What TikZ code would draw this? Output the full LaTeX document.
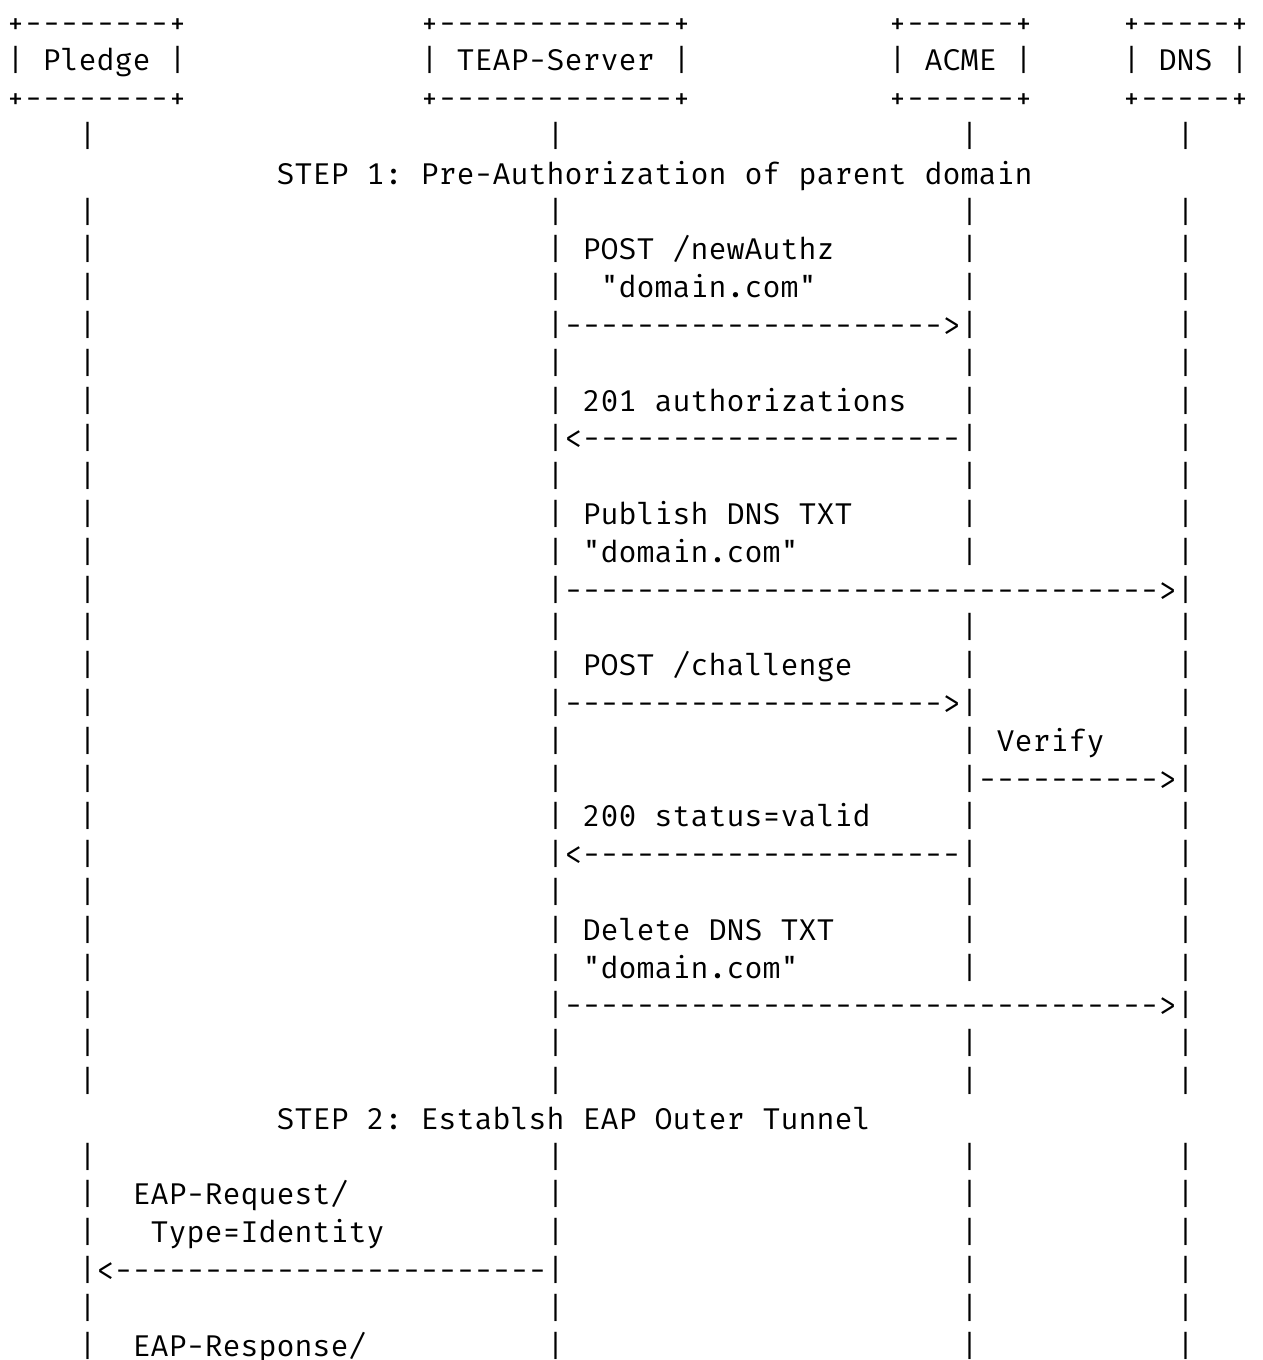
\documentclass[tikz,border=0pt]{standalone}
\usepackage{fontspec}
\setmonofont{Fira Mono}
\newcommand\cw{18.0}
\newcommand\xo{6.6}
\newcommand\lh{37.8}
\newcommand\bl{33}
\newcommand\dashes[1]{\foreach\k in {1,...,#1}{-}}
\tikzset{txt/.style={anchor=base west,inner sep=0pt,outer sep=0pt,text=black,
  font=\ttfamily\fontsize{30pt}{37.8pt}\selectfont}}
\newcommand\at[4]{\node[txt] (#1) at ({(\xo+#2*\cw)*1pt},{-(\bl+#3*\lh)*1pt}) {#4};}
\begin{document}
\begin{tikzpicture}
\useasboundingbox[fill=white] (0,0) rectangle (1263pt,-1360pt);
% participant boxes
\at{pb0}{0}{0}{+--------+}
\at{pb1}{0}{1}{| Pledge |}
\at{pb2}{0}{2}{+--------+}
\at{tb0}{23}{0}{+-------------+}
\at{tb1}{23}{1}{| TEAP-Server |}
\at{tb2}{23}{2}{+-------------+}
\at{ab0}{49}{0}{+------+}
\at{ab1}{49}{1}{| ACME |}
\at{ab2}{49}{2}{+------+}
\at{db0}{62}{0}{+-----+}
\at{db1}{62}{1}{| DNS |}
\at{db2}{62}{2}{+-----+}
% lifelines
\foreach \l in {3,5,6,...,28,30,31,...,35}{
  \at{lp\l}{4}{\l}{|}
  \at{lt\l}{30}{\l}{|}
  \at{ld\l}{65}{\l}{|}
}
\foreach \l in {3,5,6,...,14,16,17,...,25,27,28,30,31,...,35}{
  \at{la\l}{53}{\l}{|}
}
% step headings
\at{s1}{15}{4}{STEP 1: Pre-Authorization of parent domain}
\at{s2}{15}{29}{STEP 2: Establsh EAP Outer Tunnel}
% messages
\at{m1a}{32}{6}{POST /newAuthz}
\at{m1b}{33}{7}{"domain.com"}
\at{m1}{31}{8}{\dashes{21}>}
\at{m2a}{32}{10}{201 authorizations}
\at{m2}{31}{11}{<\dashes{21}}
\at{m3a}{32}{13}{Publish DNS TXT}
\at{m3b}{32}{14}{"domain.com"}
\at{m3}{31}{15}{\dashes{33}>}
\at{m4a}{32}{17}{POST /challenge}
\at{m4}{31}{18}{\dashes{21}>}
\at{m5a}{55}{19}{Verify}
\at{m5}{54}{20}{\dashes{10}>}
\at{m6a}{32}{21}{200 status=valid}
\at{m6}{31}{22}{<\dashes{21}}
\at{m7a}{32}{24}{Delete DNS TXT}
\at{m7b}{32}{25}{"domain.com"}
\at{m7}{31}{26}{\dashes{33}>}
\at{m8a}{7}{31}{EAP-Request/}
\at{m8b}{8}{32}{Type=Identity}
\at{m8}{5}{33}{<\dashes{24}}
\at{m9a}{7}{35}{EAP-Response/}
\end{tikzpicture}
\end{document}
